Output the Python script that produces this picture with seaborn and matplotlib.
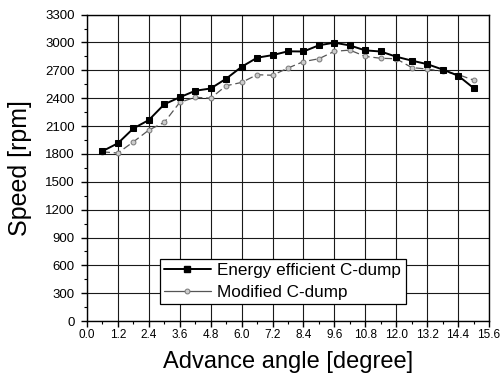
import matplotlib
matplotlib.use("Agg")
import matplotlib.pyplot as plt
import seaborn as sns
import pandas as pd
from matplotlib.ticker import MultipleLocator
from matplotlib.lines import Line2D

angle = [0.6, 1.2, 1.8, 2.4, 3.0, 3.6, 4.2, 4.8, 5.4, 6.0, 6.6, 7.2, 7.8,
         8.4, 9.0, 9.6, 10.2, 10.8, 11.4, 12.0, 12.6, 13.2, 13.8, 14.4, 15.0]
energy_efficient = [1830, 1915, 2075, 2165, 2335, 2410, 2480, 2505, 2610, 2738,
                    2836, 2864, 2905, 2903, 2970, 2998, 2968, 2915, 2903, 2847,
                    2805, 2767, 2709, 2643, 2510]
modified = [1822, 1810, 1930, 2057, 2140, 2355, 2410, 2400, 2534, 2570,
            2653, 2647, 2725, 2794, 2825, 2905, 2918, 2850, 2830, 2825,
            2730, 2714, 2690, 2655, 2595]
series_names = ["Energy efficient C-dump", "Modified C-dump"]
x_ticks = [0.0, 1.2, 2.4, 3.6, 4.8, 6.0, 7.2, 8.4, 9.6, 10.8, 12.0, 13.2, 14.4, 15.6]
y_ticks = [0, 300, 600, 900, 1200, 1500, 1800, 2100, 2400, 2700, 3000, 3300]

sns.set_style("white")
plt.rcParams['font.family'] = ['Liberation Sans', 'DejaVu Sans']
plt.rcParams['text.color'] = 'black'
plt.rcParams['axes.labelcolor'] = 'black'
plt.rcParams['xtick.color'] = 'black'
plt.rcParams['ytick.color'] = 'black'

df = pd.DataFrame({
    "angle": angle * 2,
    "speed": energy_efficient + modified,
    "series": [series_names[0]] * len(angle) + [series_names[1]] * len(angle),
})

fig = plt.figure(figsize=(5.0, 3.85), dpi=100)
ax = fig.add_axes([0.174, 0.166, 0.804, 0.796])

ax.grid(True, which='major', color='#1a1a1a', linewidth=0.8)
ax.set_axisbelow(True)

e_style = dict(color='black', linewidth=1.4, marker='s', markersize=4.2,
               markerfacecolor='black', markeredgecolor='black')
m_style = dict(color='#555555', linewidth=0.9, marker='o', markersize=3.5,
               markerfacecolor='#cccccc', markeredgecolor='#777777',
               markeredgewidth=0.7)

sns.lineplot(data=df[df.series == series_names[0]], x="angle", y="speed",
             ax=ax, zorder=3, legend=False, **e_style)
sns.lineplot(data=df[df.series == series_names[1]], x="angle", y="speed",
             ax=ax, linestyle=(0, (6, 3)), zorder=2, legend=False, **m_style)

ax.set_xlim(0, 15.6)
ax.set_ylim(0, 3300)
ax.set_xticks(x_ticks)
ax.set_xticklabels([f"{v:.1f}" for v in x_ticks])
ax.set_yticks(y_ticks)
ax.xaxis.set_minor_locator(MultipleLocator(0.6))
ax.yaxis.set_minor_locator(MultipleLocator(150))
ax.tick_params(axis='both', which='major', direction='out', length=4, width=1,
               color='black')
ax.tick_params(axis='both', which='minor', direction='out', length=2, width=0.8,
               color='black')
ax.tick_params(axis='x', which='major', labelsize=8.5, pad=2)
ax.tick_params(axis='y', which='major', labelsize=9.5, pad=5)
ax.tick_params(bottom=True, left=True, which='both')

for s in ax.spines.values():
    s.set_color('black')
    s.set_linewidth(1.0)

ax.set_xlabel("Advance angle [degree]", fontsize=17, labelpad=7)
ax.set_ylabel("Speed [rpm]", fontsize=18, labelpad=9)

handles = [Line2D([], [], **e_style), Line2D([], [], **m_style)]
leg = ax.legend(handles, series_names, loc='lower left',
                bbox_to_anchor=(0.182, 0.056), borderaxespad=0, fontsize=12.3,
                frameon=True, fancybox=False, edgecolor='black',
                framealpha=1, handlelength=2.7, borderpad=0.25,
                labelspacing=0.4, handletextpad=0.4)
leg.get_frame().set_linewidth(0.9)

fig.savefig("out.png", dpi=100)
